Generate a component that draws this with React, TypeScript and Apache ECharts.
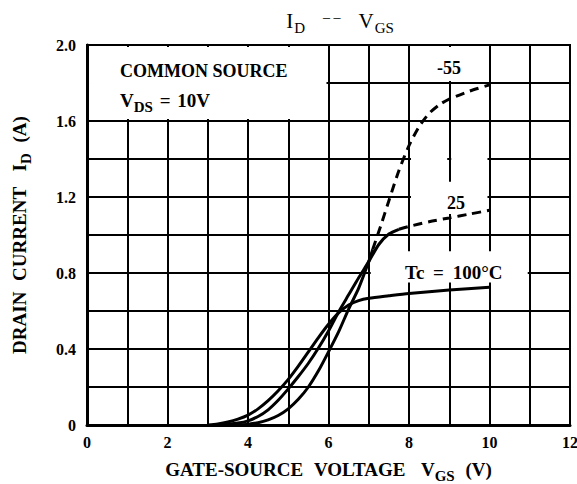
import React, { useEffect, useRef } from "react";
import * as echarts from "echarts";

// Tick labels
const xTickLabels = ["0", "2", "4", "6", "8", "10", "12"];
const yTickLabels = ["0", "0.4", "0.8", "1.2", "1.6", "2.0"];

// Tc = 100 °C (solid)
const vgs100 = [3.0, 3.25, 3.5, 3.75, 4.0, 4.25, 4.5, 4.75, 5.0, 5.25, 5.5, 5.75, 6.0, 6.25, 6.5, 6.75, 7.0, 7.5, 8.0, 9.0, 10.0];
const id100 = [0, 0.006, 0.016, 0.031, 0.052, 0.085, 0.128, 0.18, 0.24, 0.31, 0.385, 0.46, 0.53, 0.59, 0.632, 0.655, 0.667, 0.68, 0.692, 0.71, 0.725];

// Tc = 25 °C (solid part, then dashed part)
const vgs25 = [3.25, 3.5, 3.75, 4.0, 4.25, 4.5, 4.75, 5.0, 5.25, 5.5, 5.75, 6.0, 6.25, 6.5, 6.75, 7.0, 7.25, 7.5, 7.75];
const id25 = [0, 0.004, 0.01, 0.022, 0.045, 0.08, 0.13, 0.19, 0.255, 0.325, 0.405, 0.495, 0.595, 0.685, 0.775, 0.86, 0.95, 1.005, 1.03];
const vgs25Dash = [7.75, 8.0, 8.5, 9.0, 9.5, 10.0];
const id25Dash = [1.03, 1.045, 1.07, 1.09, 1.11, 1.13];

// Tc = -55 °C (solid part, then dashed part)
const vgsM55 = [3.75, 4.0, 4.25, 4.5, 4.75, 5.0, 5.25, 5.5, 5.75, 6.0, 6.25, 6.5, 6.75, 7.0, 7.1];
const idM55 = [0, 0.004, 0.012, 0.027, 0.05, 0.085, 0.135, 0.2, 0.285, 0.385, 0.49, 0.61, 0.72, 0.86, 0.925];
const vgsM55Dash = [7.1, 7.3, 7.5, 7.75, 8.0, 8.25, 8.5, 8.75, 9.0, 9.5, 10.0];
const idM55Dash = [0.925, 1.05, 1.18, 1.34, 1.47, 1.57, 1.64, 1.685, 1.715, 1.757, 1.79];

const FONT = "Liberation Serif";

export default function App() {
  const ref = useRef<HTMLDivElement>(null);

  useEffect(() => {
    document.body.style.margin = "0";
    const chart = echarts.init(ref.current!, null, { renderer: "svg" });

    const pair = (xs: number[], ys: number[]) => xs.map((x, i) => [x, ys[i]]);

    const solid = (data: number[][]) => ({
      type: "line",
      data,
      symbol: "none",
      smooth: 0.25,
      z: 3,
      silent: true,
      lineStyle: { color: "#000", width: 3 },
    });
    const dashed = (data: number[][]) => ({
      type: "line",
      data,
      symbol: "none",
      smooth: 0.25,
      z: 3,
      silent: true,
      lineStyle: { color: "#000", width: 3, type: [9, 6] },
    });

    // white label backgrounds (in axis coordinates)
    const boxes: number[][][] = [
      [[0.05, 1.61], [5.95, 1.99]],
      [[8.05, 1.81], [9.95, 1.99]],
      [[8.05, 1.11], [9.95, 1.28]],
      [[8.05, 1.385], [8.95, 1.415]],
      [[9.05, 1.385], [9.95, 1.415]],
      [[7.05, 0.75], [10.95, 0.915]],
    ];

    const base = { fontFamily: FONT, fontWeight: "bold", color: "#000", verticalAlign: "top" };
    const mainRich = { ...base, fontSize: 19, lineHeight: 21 };
    const subRich = { ...base, fontSize: 15, lineHeight: 14, padding: [8, 0, 0, 0] };
    const wideSpace = { ...base, fontSize: 19, lineHeight: 21, padding: [0, 3, 0, 3] };

    const option: any = {
      animation: false,
      backgroundColor: "#fff",
      grid: {
        left: 87,
        right: 7,
        top: 45,
        bottom: 59,
        containLabel: false,
        outerBoundsMode: "none",
        show: true,
        borderColor: "#000",
        borderWidth: 2,
        backgroundColor: "transparent",
      },
      xAxis: {
        type: "value",
        min: 0,
        max: 12,
        interval: 1,
        axisLine: { show: true, lineStyle: { color: "#000", width: 3 } },
        axisTick: { show: false },
        splitLine: { show: true, lineStyle: { color: "#000", width: 2 } },
        axisLabel: {
          margin: 9,
          color: "#000",
          fontSize: 16,
          fontWeight: "bold",
          fontFamily: FONT,
          formatter: (v: number) => (Math.round(v) % 2 === 0 ? xTickLabels[Math.round(v) / 2] : ""),
        },
        name: "{m|GATE-SOURCE}{w| }{m|VOLTAGE}{w|  }{m|V}{s|GS}{w| }{m|(V)}",
        nameLocation: "middle",
        nameGap: 35,
        nameTextStyle: { fontSize: 19, fontFamily: FONT, fontWeight: "bold", color: "#000", rich: { m: mainRich, s: subRich, w: wideSpace } },
      },
      yAxis: {
        type: "value",
        min: 0,
        max: 2,
        interval: 0.2,
        axisLine: { show: true, lineStyle: { color: "#000", width: 3 } },
        axisTick: { show: false },
        splitLine: { show: true, lineStyle: { color: "#000", width: 2 } },
        axisLabel: {
          margin: 11,
          color: "#000",
          fontSize: 16,
          fontWeight: "bold",
          fontFamily: FONT,
          formatter: (v: number) => {
            const k = Math.round(v * 10);
            return k % 4 === 0 ? yTickLabels[k / 4] : "";
          },
        },
        name: "{m|DRAIN}{w| }{m|CURRENT}{w|  }{m|I}{s|D}{w| }{m|(A)}",
        nameLocation: "middle",
        nameRotate: 90,
        nameGap: 56,
        nameTextStyle: { fontSize: 19, fontFamily: FONT, fontWeight: "bold", color: "#000", rich: { m: mainRich, s: subRich, w: wideSpace } },
      },
      series: [
        {
          type: "line",
          data: [],
          z: 1,
          silent: true,
          markArea: {
            silent: true,
            itemStyle: { color: "#fff", opacity: 1, borderWidth: 0 },
            data: boxes.map((b) => [{ coord: b[0] }, { coord: b[1] }]),
          },
        },
        solid(pair(vgs100, id100)),
        solid(pair(vgs25, id25)),
        dashed(pair(vgs25Dash, id25Dash)),
        solid(pair(vgsM55, idM55)),
        dashed(pair(vgsM55Dash, idM55Dash)),
      ],
      graphic: [
        {
          type: "text",
          z: 10,
          silent: true,
          style: {
            x: 340,
            y: 10,
            align: "center",
            verticalAlign: "top",
            text: "{t|I}{ts|D}{g|– –}{t|V}{ts|GS}",
            rich: {
              t: { fontSize: 21, lineHeight: 22, verticalAlign: "top", fontFamily: FONT, color: "#000" },
              ts: { fontSize: 15, lineHeight: 15, verticalAlign: "top", padding: [10, 0, 0, 1], fontFamily: FONT, color: "#000" },
              g: { fontSize: 14, lineHeight: 22, verticalAlign: "top", padding: [0, 18, 0, 18], fontFamily: FONT, color: "#777" },
            },
          },
        },
        {
          type: "text",
          z: 10,
          silent: true,
          style: {
            x: 120,
            y: 71,
            align: "left",
            verticalAlign: "middle",
            text: "COMMON SOURCE",
            fontSize: 18,
            fontFamily: FONT,
            fontWeight: "bold",
            fill: "#000",
          },
        },
        {
          type: "text",
          z: 10,
          silent: true,
          style: {
            x: 120,
            y: 91,
            align: "left",
            verticalAlign: "top",
            text: "{m|V}{s|DS}{w| }{m|=}{w| }{m|10V}",
            rich: { m: mainRich, s: subRich, w: { ...base, fontSize: 19, lineHeight: 21, padding: [0, 1, 0, 1] } },
          },
        },
        {
          type: "text",
          z: 10,
          silent: true,
          style: { x: 449, y: 68, align: "center", verticalAlign: "middle", text: "-55", fontSize: 18, fontFamily: FONT, fontWeight: "bold", fill: "#000" },
        },
        {
          type: "text",
          z: 10,
          silent: true,
          style: { x: 456, y: 203, align: "center", verticalAlign: "middle", text: "25", fontSize: 18, fontFamily: FONT, fontWeight: "bold", fill: "#000" },
        },
        {
          type: "text",
          z: 10,
          silent: true,
          style: {
            x: 405,
            y: 263,
            align: "left",
            verticalAlign: "top",
            text: "{m|Tc}{w| }{m|=}{w| }{m|100°C}",
            rich: { m: mainRich, w: { ...base, fontSize: 19, lineHeight: 21, padding: [0, 2, 0, 2] } },
          },
        },
      ],
    };

    chart.setOption(option);
    return () => chart.dispose();
  }, []);

  return <div ref={ref} style={{ width: 577, height: 484 }} />;
}
